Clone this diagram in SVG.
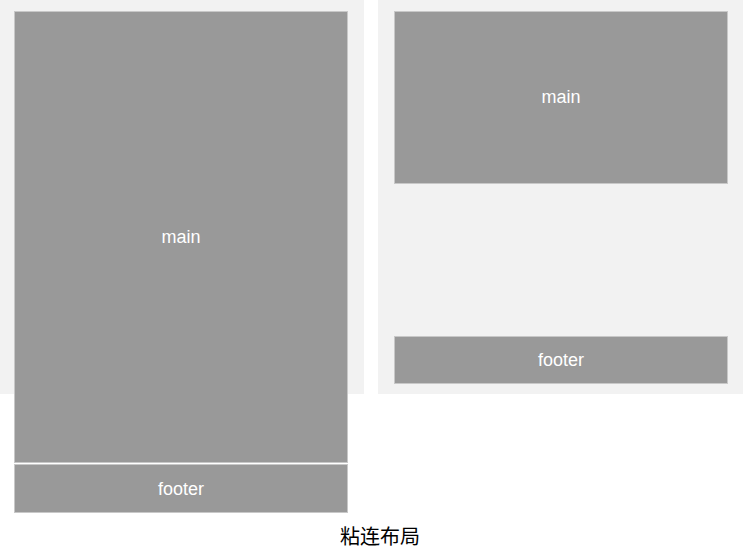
<svg xmlns="http://www.w3.org/2000/svg" width="743" height="551" viewBox="0 0 743 551">
<style>
.panel{fill:#f2f2f2}
.box{fill:#999999;stroke:#c8c8c8;stroke-width:1}
.lbl{font-family:"Liberation Sans","Noto Sans CJK SC",sans-serif;font-size:18px;fill:#ffffff;text-anchor:middle;dominant-baseline:central}
.cap{font-family:"Noto Sans CJK SC","Liberation Sans",sans-serif;font-size:20px;fill:#000000;text-anchor:middle;dominant-baseline:central}
</style>
<rect class="panel" x="0" y="0" width="364" height="394"/>
<rect class="panel" x="378" y="0" width="365" height="394"/>
<g id="left-main"><rect class="box" x="14.5" y="11.5" width="333" height="451"/><text class="lbl" x="181" y="237">main</text></g>
<g id="left-footer"><rect class="box" x="14.5" y="464.5" width="333" height="48"/><text class="lbl" x="181" y="489">footer</text></g>
<g id="right-main"><rect class="box" x="394.5" y="11.5" width="333" height="172"/><text class="lbl" x="561" y="97">main</text></g>
<g id="right-footer"><rect class="box" x="394.5" y="336.5" width="333" height="47"/><text class="lbl" x="561" y="360">footer</text></g>
<g id="connectors"/>
<text class="cap" x="380" y="535">粘连布局</text>
</svg>
